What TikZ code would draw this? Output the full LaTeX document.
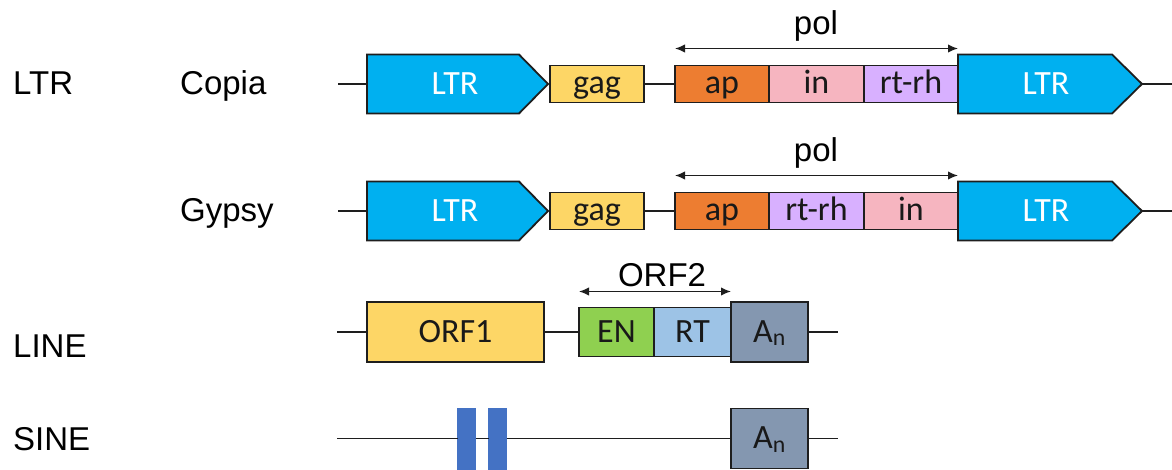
\documentclass[tikz,border=0pt]{standalone}
\usepackage{fontspec}
\setmainfont{Liberation Sans}
\newfontfamily\calfont{Carlito}
\usetikzlibrary{arrows.meta}

\definecolor{ltrblue}{HTML}{00B0F0}
\definecolor{gagyel}{HTML}{FDD666}
\definecolor{aporange}{HTML}{ED7D31}
\definecolor{inpink}{HTML}{F6B5C0}
\definecolor{rtlilac}{HTML}{D8B0FF}
\definecolor{engreen}{HTML}{8FD050}
\definecolor{rtblue}{HTML}{9DC3E6}
\definecolor{polya}{HTML}{8497B0}
\definecolor{sinebar}{HTML}{4472C4}
\definecolor{edge}{HTML}{1E1E1E}

\begin{document}
\begin{tikzpicture}[x=1pt,y=-1pt,
  wire/.style={draw=edge, line width=1.7pt},
  span/.style={draw=edge, line width=1.6pt, {Latex[length=10pt,width=8.5pt]}-{Latex[length=10pt,width=8.5pt]}},
  box/.style={draw=edge, line width=1.8pt, inner sep=0pt, outer sep=0pt, anchor=west,
    font=\calfont\fontsize{34}{40}\selectfont, text=black!90,
    text height=24pt, text depth=4pt},
  ltrshape/.style={draw=edge, line width=1.8pt, fill=ltrblue, line join=miter},
  ltrlabel/.style={font=\calfont\fontsize{34}{40}\selectfont, text=white, inner sep=0pt,
    text height=26pt, text depth=4pt},
  rowlabel/.style={anchor=base west, font=\fontsize{33}{40}\selectfont, inner sep=0pt},
  toplabel/.style={anchor=base, font=\fontsize{33}{40}\selectfont, inner sep=0pt},
  bar/.style={fill=sinebar, draw=sinebar, line width=0.5pt, inner sep=0pt, outer sep=0pt,
    minimum width=18pt, minimum height=61pt, anchor=west},
]
\useasboundingbox (0,0) rectangle (1172,470);

% ---- row labels
\node[rowlabel] (lblLTR)   at (13,95)  {LTR};
\node[rowlabel] (lblCopia) at (180,95) {Copia};
\node[rowlabel] (lblGypsy) at (180,222) {Gypsy};
\node[rowlabel] (lblLINE)  at (13,357) {LINE};
\node[rowlabel] (lblSINE)  at (13,450) {SINE};

% ---- Copia
\coordinate (cS) at (338,84);
\coordinate (cE) at (1172,84);
\draw[ltrshape] (367,54.5) coordinate (cL1w) -- (519,54.5) -- (548,84) coordinate (cL1tip)
   -- (519,113.5) -- (367,113.5) -- cycle;
\coordinate (cL1in) at (367,84);
\node[ltrlabel] (cL1txt) at (455,84) {LTR};
\node[box, fill=gagyel, minimum width=94pt, minimum height=37pt] (cgag) at (550,84) {gag};
\node[box, fill=aporange, minimum width=94pt, minimum height=37pt] (cap) at (675,84) {ap};
\node[box, fill=inpink, minimum width=95pt, minimum height=37pt] (cin) at (769,84) {in};
\node[box, fill=rtlilac, minimum width=94pt, minimum height=37pt] (crt) at (864,84) {rt-rh};
\draw[ltrshape] (958,54.5) -- (1112,54.5) -- (1142,84) coordinate (cL2tip)
   -- (1112,113.5) -- (958,113.5) -- cycle;
\node[ltrlabel] (cL2txt) at (1046,84) {LTR};
\draw[wire] (cS) -- (cL1in);
\draw[wire] (cgag.east) -- (cap.west);
\draw[wire] (cL2tip) -- (cE);
\draw[span] ([yshift=17pt]cap.north west) -- ([yshift=17pt]crt.north east);
\node[toplabel] (cpol) at (816,35) {pol};

% ---- Gypsy
\coordinate (gS) at (338,211);
\coordinate (gE) at (1172,211);
\draw[ltrshape] (367,181.5) -- (519,181.5) -- (548,211) coordinate (gL1tip)
   -- (519,240.5) -- (367,240.5) -- cycle;
\coordinate (gL1in) at (367,211);
\node[ltrlabel] (gL1txt) at (455,211) {LTR};
\node[box, fill=gagyel, minimum width=94pt, minimum height=37pt] (ggag) at (550,211) {gag};
\node[box, fill=aporange, minimum width=94pt, minimum height=37pt] (gap) at (675,211) {ap};
\node[box, fill=rtlilac, minimum width=95pt, minimum height=37pt] (grt) at (769,211) {rt-rh};
\node[box, fill=inpink, minimum width=94pt, minimum height=37pt] (gin) at (864,211) {in};
\draw[ltrshape] (958,181.5) -- (1112,181.5) -- (1142,211) coordinate (gL2tip)
   -- (1112,240.5) -- (958,240.5) -- cycle;
\node[ltrlabel] (gL2txt) at (1046,211) {LTR};
\draw[wire] (gS) -- (gL1in);
\draw[wire] (ggag.east) -- (gap.west);
\draw[wire] (gL2tip) -- (gE);
\draw[span] ([yshift=17pt]gap.north west) -- ([yshift=17pt]gin.north east);
\node[toplabel] (gpol) at (816,162) {pol};

% ---- LINE
\coordinate (lS) at (337,332);
\coordinate (lE) at (838,332);
\node[box, fill=gagyel, minimum width=177pt, minimum height=60pt] (orf1) at (367,332) {ORF1};
\node[box, fill=engreen, minimum width=75pt, minimum height=49pt] (en) at (579,332) {EN};
\node[box, fill=rtblue, minimum width=77pt, minimum height=49pt] (rt) at (654,332) {RT};
\node[box, fill=polya, minimum width=77pt, minimum height=60pt] (an3) at (731,332) {A\textsubscript{n}};
\draw[wire] (lS) -- (orf1.west);
\draw[wire] (orf1.east) -- (en.west);
\draw[wire] (an3.east) -- (lE);
\draw[span] ([yshift=16pt]en.north west) -- ([yshift=16pt]rt.north east);
\node[toplabel] (orf2) at (662,287) {ORF2};

% ---- SINE
\coordinate (sS) at (337,438.5);
\coordinate (sE) at (838,438.5);
\node[bar] (bar1) at (457.5,438.5) {};
\node[bar] (bar2) at (488.5,438.5) {};
\node[box, fill=polya, minimum width=77pt, minimum height=60pt] (an4) at (731,438.5) {A\textsubscript{n}};
\draw[wire] (sS) -- (bar1.west);
\draw[wire] (bar1.east) -- (bar2.west);
\draw[wire] (bar2.east) -- (an4.west);
\draw[wire] (an4.east) -- (sE);
\end{tikzpicture}
\end{document}
